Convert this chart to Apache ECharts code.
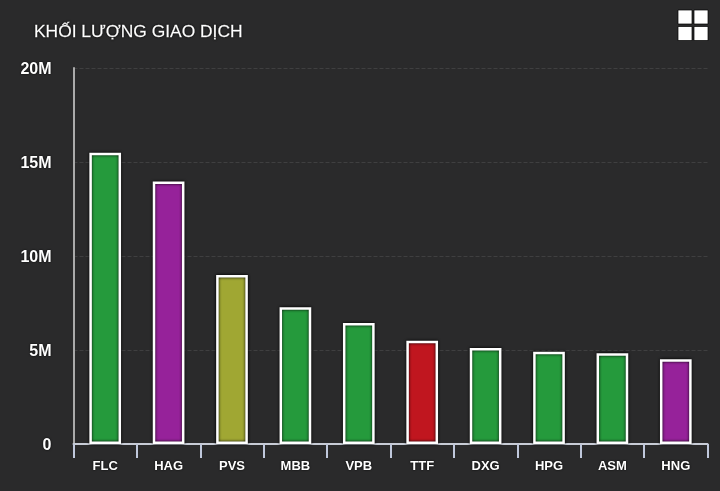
<!DOCTYPE html>
<html><head><meta charset="utf-8">
<style>html,body{margin:0;padding:0;background:#2a2a2b}#c{width:720px;height:491px}</style>
<script src="https://cdn.jsdelivr.net/npm/echarts@6/dist/echarts.min.js"></script>
</head><body><div id="c"></div>
<script>
const categories=['FLC','HAG','PVS','MBB','VPB','TTF','DXG','HPG','ASM','HNG'];
const values=[15490000,13960000,8990000,7280000,6430000,5490000,5100000,4910000,4830000,4510000];
const barColors=['#259a3c','#96229a','#a0a733','#259a3c','#259a3c','#c0161f','#259a3c','#259a3c','#259a3c','#96229a'];
const titleText='KHỐI LƯỢNG GIAO DỊCH';
const font='"Liberation Sans",Arial,sans-serif';
const txt={color:'#fff',fontFamily:font,textShadowColor:'#000',textShadowBlur:2};
const chart=echarts.init(document.getElementById('c'),null,{renderer:'canvas'});
const sq=(x,y)=>({type:'rect',left:x,top:y,shape:{width:14,height:14},style:{fill:'#fff',stroke:'rgba(0,0,0,0.7)',lineWidth:1}});
chart.setOption({
  backgroundColor:'#2a2a2b',animation:false,
  title:{text:titleText,left:34,top:24,padding:0,textStyle:{...txt,fontSize:17.4,fontWeight:'normal',textBorderColor:'#fff',textBorderWidth:0.3}},
  graphic:[sq(677.5,9.5),sq(693.5,9.5),sq(677.5,26),sq(693.5,26)],
  grid:{left:73.5,right:12.5,top:68,bottom:47},
  xAxis:{type:'category',data:categories,
    axisLine:{lineStyle:{color:'#c8ccd6',width:2}},
    axisTick:{show:true,length:14,alignWithLabel:false,lineStyle:{color:'#c0c8dc',width:2}},
    axisLabel:{...txt,fontSize:13,fontWeight:'bold',margin:16},
    splitLine:{show:false}},
  yAxis:{type:'value',min:0,max:20000000,interval:5000000,
    axisLine:{show:true,lineStyle:{color:'#aaaaaa',width:2}},
    axisTick:{show:false},
    axisLabel:{...txt,fontSize:16,fontWeight:'bold',margin:22,verticalAlign:'top',lineHeight:4,
      formatter:v=>v===0?'0':(v/1000000)+'M'},
    splitLine:{lineStyle:{color:'#3f3f40',type:'dashed',width:1}}},
  series:[{type:'bar',barWidth:'50%',
    data:values.map((v,i)=>({value:v,itemStyle:{color:barColors[i]}})),
    itemStyle:{borderColor:'#fff',borderWidth:2.5,shadowColor:'#000',shadowBlur:3}}]
});
</script></body></html>
